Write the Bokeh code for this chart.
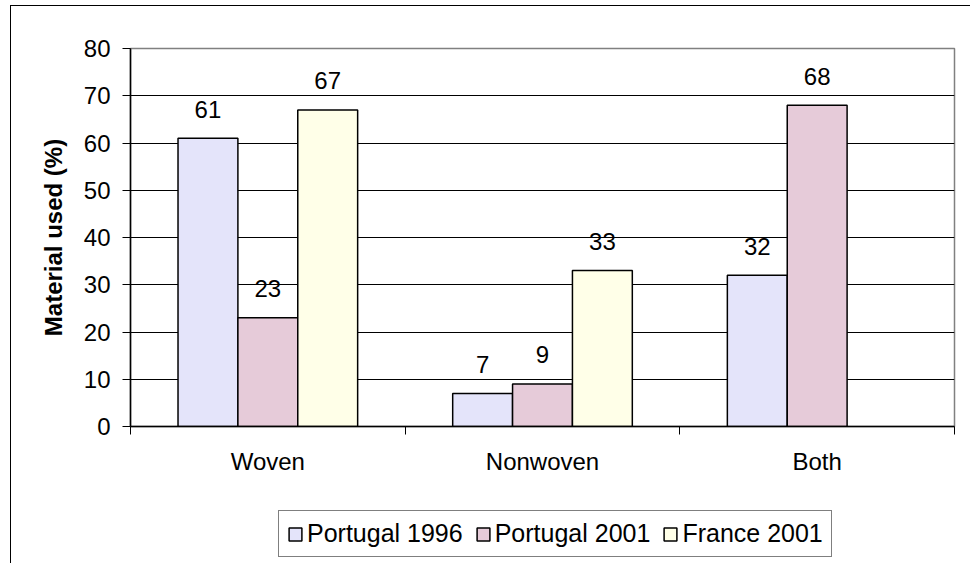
import math
from bokeh.plotting import figure
from bokeh.layouts import column
from bokeh.models import (ColumnDataSource, FixedTicker, LinearAxis, Range1d,
                          Legend, LegendItem)
from bokeh.core.properties import value
from bokeh.embed import file_html
from bokeh.resources import INLINE

categories = ["Woven", "Nonwoven", "Both"]
series_names = ["Portugal 1996", "Portugal 2001", "France 2001"]
portugal_1996 = [61, 7, 32]
portugal_2001 = [23, 9, 68]
france_2001 = [67, 33, float("nan")]
series_values = [portugal_1996, portugal_2001, france_2001]
series_colors = ["#E4E4FA", "#E6CBD9", "#FFFFE8"]
y_ticks = [0, 10, 20, 30, 40, 50, 60, 70, 80]

FONT = "Liberation Sans"
FS = "24px"
BAR_W = 0.218

p = figure(width=959, height=494, output_backend="svg", toolbar_location=None,
           x_range=Range1d(0, len(categories)), y_range=Range1d(0, 80),
           min_border_left=119, min_border_right=16, min_border_top=42,
           min_border_bottom=74, x_axis_type=None)
p.background_fill_color = "white"
p.border_fill_color = "white"
p.outline_line_color = "#808080"
p.outline_line_width = 1.5

# grid
p.xgrid.visible = False
p.ygrid.ticker = FixedTicker(ticks=y_ticks[1:-1])
p.ygrid.grid_line_color = "black"
p.ygrid.grid_line_width = 1

# y axis
p.yaxis.ticker = FixedTicker(ticks=y_ticks)
p.yaxis.minor_tick_line_color = None
p.yaxis.major_tick_in = 0
p.yaxis.major_tick_out = 8
p.yaxis.major_tick_line_color = "black"
p.yaxis.axis_line_color = "black"
p.yaxis.axis_line_width = 1.5
p.yaxis.major_label_text_font = FONT
p.yaxis.major_label_text_font_size = FS
p.yaxis.major_label_text_color = "black"
p.yaxis.major_label_standoff = 12
p.yaxis.axis_label = "Material used (%)"
p.yaxis.axis_label_text_font = FONT
p.yaxis.axis_label_text_font_size = FS
p.yaxis.axis_label_text_font_style = "bold"
p.yaxis.axis_label_text_color = "black"
p.yaxis.axis_label_standoff = 14

# x axis: labels at category centers, tick marks at boundaries
centers = [i + 0.5 for i in range(len(categories))]
bounds = [float(i) for i in range(len(categories) + 1)]
xax = LinearAxis(ticker=FixedTicker(ticks=centers, minor_ticks=bounds),
                 major_label_overrides={c: n for c, n in zip(centers, categories)})
xax.major_tick_line_color = None
xax.major_tick_out = 0
xax.major_tick_in = 0
xax.minor_tick_in = 0
xax.minor_tick_out = 8
xax.minor_tick_line_color = "black"
xax.axis_line_color = "black"
xax.axis_line_width = 1.5
xax.major_label_text_font = FONT
xax.major_label_text_font_size = FS
xax.major_label_text_color = "black"
xax.major_label_standoff = 13
p.add_layout(xax, "below")

# legend strip (separate figure so the legend is not clipped);
# its proxy bars are scaled to sit underneath the opaque legend box
pl = figure(width=959, height=63, output_backend="svg", toolbar_location=None,
            x_range=Range1d(-0.677, 3.443), y_range=Range1d(-27.6, 106.3),
            min_border_left=0, min_border_right=0, min_border_top=0,
            min_border_bottom=0, x_axis_type=None, y_axis_type=None)
pl.outline_line_color = None
pl.xgrid.visible = False
pl.ygrid.visible = False
pl.background_fill_color = "white"
pl.border_fill_color = "white"

items = []
for k, (name, vals, col) in enumerate(zip(series_names, series_values, series_colors)):
    off = (k - 1) * BAR_W
    xs, tops, labels = [], [], []
    for i, v in enumerate(vals):
        if v is None or (isinstance(v, float) and math.isnan(v)):
            continue
        xs.append(centers[i] + off)
        tops.append(v)
        labels.append(str(int(v)))
    src = ColumnDataSource(dict(x=xs, top=tops, label=labels))
    p.vbar(x="x", top="top", bottom=0, width=BAR_W, source=src,
           fill_color=col, line_color="black", line_width=1.5)
    p.text(x="x", y="top", text="label", source=src, text_align="center",
           text_baseline="alphabetic", y_offset=-29, text_font=value(FONT),
           text_font_size=FS, text_color="black")
    rl = pl.vbar(x="x", top="top", bottom=0, width=BAR_W, source=src,
                 fill_color=col, line_color="black", line_width=1.5)
    items.append(LegendItem(label=name, renderers=[rl]))

legend = Legend(items=items, orientation="horizontal", location=(148, 6))
legend.label_text_font = FONT
legend.label_text_font_size = "25px"
legend.label_text_color = "black"
legend.glyph_width = 16
legend.glyph_height = 16
legend.label_standoff = 4
legend.spacing = 12
legend.padding = 8
legend.margin = 0
legend.border_line_color = "black"
legend.border_line_width = 1
legend.background_fill_color = "white"
legend.background_fill_alpha = 1
pl.add_layout(legend, "center")

layout = column(p, pl, spacing=0)
layout.styles = {"margin-left": "10px", "margin-top": "5px",
                 "border-left": "1px solid black", "border-top": "1px solid black"}

open("out.html", "w").write(file_html(layout, INLINE))
